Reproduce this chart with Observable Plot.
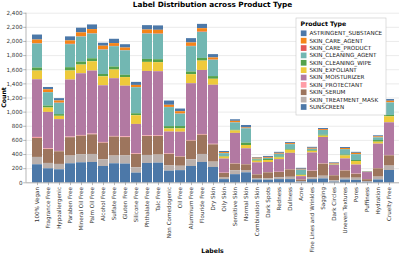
<!DOCTYPE html>
<html>
<head>
<meta charset="utf-8">
<script src="https://cdn.jsdelivr.net/npm/d3@7"></script>
<script src="https://cdn.jsdelivr.net/npm/@observablehq/plot@0.6"></script>
<style>
  html, body { margin: 0; padding: 0; background: white; }
  svg { display: block; }
</style>
</head>
<body>
<div id="chart"></div>
<script>
const labels = ["100% Vegan","Fragrance Free","Hypoallergenic","Paraben Free","Mineral Oil Free","Palm Oil Free","Alcohol Free","Sulfate Free","Gluten Free","Silicone Free","Phthalate Free","Talc Free","Non Comedogenic","Oil Free","Aluminum Free","Flouride Free","Dry Skin","Oily Skin","Sensitive Skin","Normal Skin","Combination Skin","Dark Spots","Redness","Dullness","Acne","Fine Lines and Wrinkles","Sagging","Dark Circles","Uneven Textures","Pores","Puffiness","Hydration","Cruelty Free"];

const types = ["ASTRINGENT_SUBSTANCE","SKIN_CARE_AGENT","SKIN_CARE_PRODUCT","SKIN_CLEANING_AGENT","SKIN_CLEANING_WIPE","SKIN_EXFOLIANT","SKIN_MOISTURIZER","SKIN_PROTECTANT","SKIN_SERUM","SKIN_TREATMENT_MASK","SUNSCREEN"];
const colors = ["#4c78a8","#f58518","#e45756","#72b7b2","#54a24b","#eeca3b","#b279a2","#ff9da6","#9d755d","#bab0ac","#4c78a8"];

const astringent    = [71,33,33,57,66,66,42,61,47,43,62,62,60,38,61,61,47,15,22,35,9,14,14,14,14,14,14,9,14,14,5,15,24];
const careAgent     = [51,38,30,48,55,58,50,40,36,30,52,52,30,32,48,48,30,13,20,9,12,12,12,12,9,12,12,10,14,17,2,12,22];
const careProduct   = [5,3,3,5,5,5,5,4,4,3,5,5,3,3,5,5,3,3,3,3,2,2,2,3,2,2,2,2,2,3,1,2,2];
const cleaningAgent = [340,189,160,326,354,350,345,288,345,368,359,359,269,175,358,368,231,39,103,203,14,15,38,70,69,19,66,5,75,82,3,38,177];
const cleaningWipe  = [43,28,24,47,42,42,33,42,33,28,42,42,33,33,38,38,38,9,10,33,14,15,14,10,9,10,14,5,14,14,1,23,19];
const exfoliant     = [123,62,47,128,123,132,127,123,122,123,128,128,43,47,128,132,85,28,35,47,24,28,23,43,15,23,19,5,42,50,2,28,85];
const moisturizer   = [816,515,450,807,873,892,802,817,717,415,911,906,308,345,803,906,835,200,429,222,167,143,179,231,45,256,373,145,167,127,99,345,462];
const protectant    = [14,9,5,9,10,10,10,9,10,9,9,9,8,7,9,10,8,4,5,5,3,3,3,4,2,4,4,3,4,4,2,4,5];
const serum         = [269,198,179,260,264,278,235,269,260,190,269,265,165,130,264,273,245,65,95,80,52,85,73,104,22,94,171,69,103,55,28,118,146];
const treatmentMask = [104,76,76,109,113,113,95,109,115,75,113,114,73,62,95,113,75,22,55,33,20,19,28,33,9,23,38,20,24,30,8,40,62];
const sunscreen     = [255,198,184,269,283,288,231,269,265,137,274,278,165,172,231,288,217,45,115,141,40,37,45,45,9,45,55,10,40,35,8,40,174];

const yTicks = [0,200,400,600,800,1000,1200,1400,1600,1800,2000,2200,2400];

const series = [astringent, careAgent, careProduct, cleaningAgent, cleaningWipe, exfoliant, moisturizer, protectant, serum, treatmentMask, sunscreen];
const data = types.flatMap((t, k) => labels.map((l, i) => ({label: l, type: t, count: series[k][i]})));

const FONT = "DejaVu Sans";
const chart = Plot.plot({
  width: 399,
  height: 254,
  marginLeft: 26,
  marginRight: 0,
  marginTop: 12.7,
  marginBottom: 71.7,
  style: {fontFamily: FONT, fontSize: "5.6px", background: "white", overflow: "visible"},
  x: {domain: labels, paddingInner: 0.1, paddingOuter: 0.05, label: null},
  y: {domain: [0, 2400], label: null},
  color: {domain: types, range: colors},
  marks: [
    Plot.gridY(yTicks, {stroke: "#ddd", strokeOpacity: 1, strokeWidth: 0.6}),
    Plot.barY(data, {x: "label", y: "count", fill: "type", order: types.slice().reverse(), inset: 0}),
    Plot.ruleY([0], {stroke: "#888", strokeWidth: 0.6}),
    Plot.axisY({ticks: yTicks, tickFormat: d3.format(","), tickSize: 2.8, tickPadding: 1.2, stroke: "#888", strokeWidth: 0.6, fill: "#333", label: null}),
    Plot.axisX({tickRotate: -90, tickSize: 2.8, tickPadding: 1.4, stroke: "#888", strokeWidth: 0.6, fill: "#333", label: null})
  ]
});
document.getElementById("chart").appendChild(chart);

const svg = d3.select(chart);
const ys = chart.scale("y");
const y0 = ys.apply(0), y1 = ys.apply(2400);
// left domain line
svg.append("line").attr("x1", 26).attr("x2", 26).attr("y1", y1).attr("y2", y0)
  .attr("stroke", "#888").attr("stroke-width", 0.6);

// title
svg.append("text").attr("x", 212.5).attr("y", 7.2).attr("text-anchor", "middle")
  .attr("font-family", FONT).attr("font-weight", "bold").attr("font-size", 7.3).attr("fill", "#000")
  .text("Label Distribution across Product Type");
// axis titles
svg.append("text").attr("transform", `translate(5.6,${(y0 + y1) / 2}) rotate(-90)`).attr("text-anchor", "middle")
  .attr("font-family", FONT).attr("font-weight", "bold").attr("font-size", 6.2).attr("fill", "#000")
  .text("Count");
svg.append("text").attr("x", 212.5).attr("y", 252.8).attr("text-anchor", "middle")
  .attr("font-family", FONT).attr("font-weight", "bold").attr("font-size", 6.2).attr("fill", "#000")
  .text("Labels");

// legend
const lg = svg.append("g").attr("text-anchor", "start");
lg.append("rect").attr("x", 296).attr("y", 18).attr("width", 90).attr("height", 97)
  .style("fill", "#ffffff").style("stroke", "#c8c8c8").style("stroke-width", "0.6px");
lg.append("text").attr("x", 300.6).attr("y", 26.3).attr("text-anchor", "start")
  .attr("font-family", FONT).attr("font-weight", "bold").attr("font-size", 6.2).attr("fill", "#000")
  .text("Product Type");
types.forEach((t, i) => {
  const cy = 33.3 + 7.37 * i;
  lg.append("rect").attr("x", 300.8).attr("y", cy - 2.85).attr("width", 5.7).attr("height", 5.7)
    .style("fill", colors[i]);
  lg.append("text").attr("x", 309.4).attr("y", cy).attr("dy", "0.35em").attr("text-anchor", "start")
    .attr("font-family", FONT).attr("font-size", 5.65).attr("fill", "#222")
    .text(t);
});
</script>
</body>
</html>
